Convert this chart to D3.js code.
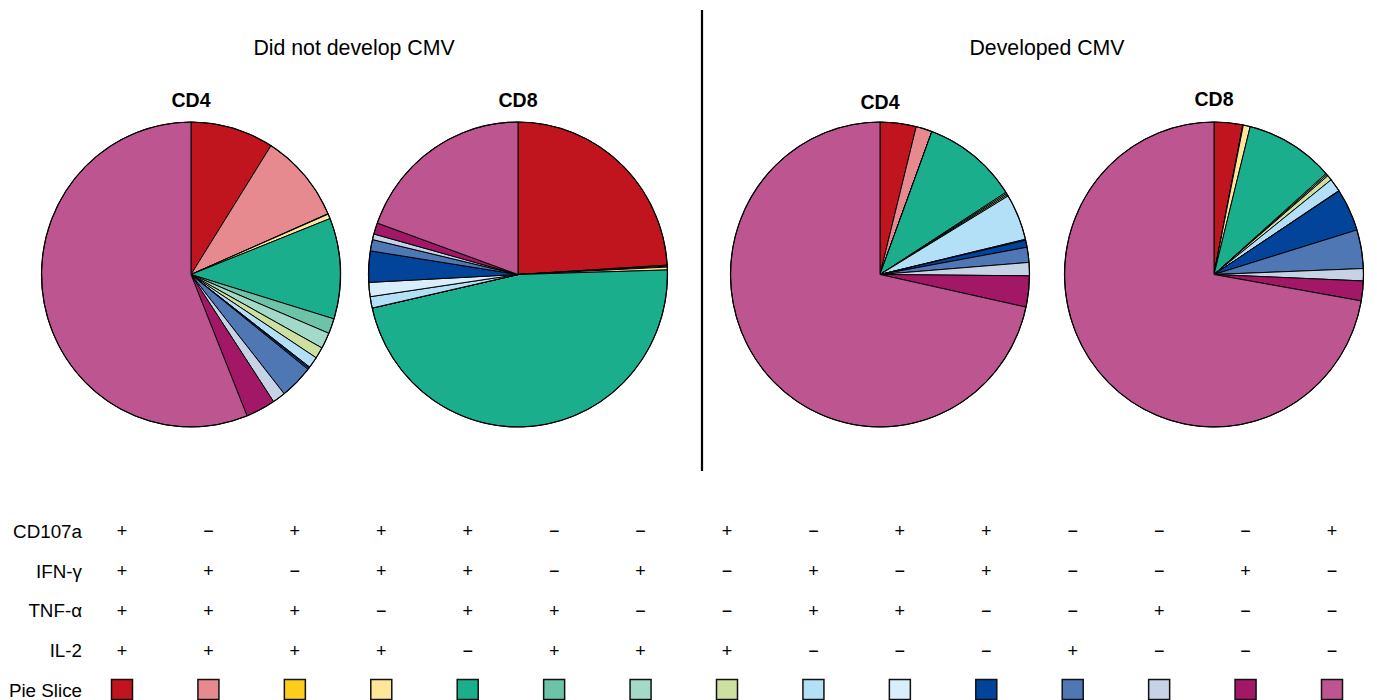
<!DOCTYPE html>
<html>
<head>
<meta charset="utf-8">
<script src="https://cdn.jsdelivr.net/npm/d3@7"></script>
<style>
    body { margin: 0; background: #fff; }
    svg { font-family: "Liberation Sans", Arial, Helvetica, sans-serif; }
</style>
</head>
<body>
<div id="chart"></div>
<script>
// slice order (clockwise from 12 o'clock) = column order of the table
const sliceColors = ["#c0141f", "#e68a90", "#fecc1b", "#ffe699", "#1aae8c", "#6dc3a8", "#a3d9c8", "#cde0a0",
    "#b3e0f6", "#d9eefb", "#02449a", "#4e77b4", "#c6d2e6", "#a21766", "#bd5590"];

const markers = ["CD107a", "IFN-γ", "TNF-α", "IL-2"];
const cd107aSigns = ["+", "−", "+", "+", "+", "−", "−", "+", "−", "+", "+", "−", "−", "−", "+"];
const ifngSigns   = ["+", "+", "−", "+", "+", "−", "+", "−", "+", "−", "+", "−", "−", "+", "−"];
const tnfaSigns   = ["+", "+", "+", "−", "+", "+", "−", "−", "+", "+", "−", "−", "+", "−", "−"];
const il2Signs    = ["+", "+", "+", "+", "−", "+", "+", "+", "−", "−", "−", "+", "−", "−", "−"];

const groups = ["Did not develop CMV", "Developed CMV"];
const subsets = ["CD4", "CD8"];

// percent of responding cells per combination
const noCmvCD4 = [9.0, 9.5, 0.05, 0.5, 10.7, 1.6, 1.7, 1.2, 1.2, 0.1, 0.2, 3.6, 1.4, 3.2, 56.2];
const noCmvCD8 = [24.0, 0.1, 0.1, 0.3, 46.9, 0, 0, 0, 1.2, 1.5, 3.3, 1.2, 0.6, 1.2, 19.5];
const cmvCD4   = [3.9, 1.75, 0, 0, 10.3, 0.15, 0.15, 0.15, 4.9, 0.1, 0.75, 1.6, 1.4, 3.3, 71.6];
const cmvCD8   = [3.1, 0, 0.05, 0.75, 9.6, 0.15, 0.15, 0.55, 1.4, 0.05, 4.5, 4.1, 1.3, 2.1, 72.3];

const width = 1377, height = 700;
const radius = 149.5;
const yStretch = 152.5 / 149.5;   // the original pies are a touch taller than wide

const svg = d3.select("#chart")
    .append("svg")
        .attr("width", width)
        .attr("height", height);

const pies = [
    {group: 0, subset: 0, values: noCmvCD4, cx: 191, labelY: 107},
    {group: 0, subset: 1, values: noCmvCD8, cx: 518, labelY: 107},
    {group: 1, subset: 0, values: cmvCD4, cx: 880, labelY: 109},
    {group: 1, subset: 1, values: cmvCD8, cx: 1214, labelY: 106},
];
const pieY = 274.5;

const pie = d3.pie().sort(null).value(d => d);
const arc = d3.arc().innerRadius(0).outerRadius(radius);

pies.forEach(p => {
    const g = svg.append("g")
        .attr("transform", `translate(${p.cx},${pieY}) scale(1,${yStretch})`);

    g.selectAll("path")
        .data(pie(p.values))
        .join("path")
            .attr("d", arc)
            .attr("fill", (d, i) => sliceColors[i])
            .attr("stroke", "#000")
            .attr("stroke-width", 1)
            .attr("stroke-linejoin", "round")
            .attr("vector-effect", "non-scaling-stroke");

    g.append("circle")
        .attr("r", radius)
        .attr("fill", "none")
        .attr("stroke", "#000")
        .attr("stroke-width", 1.2)
        .attr("vector-effect", "non-scaling-stroke");

    svg.append("text")
        .attr("x", p.cx)
        .attr("y", p.labelY)
        .attr("text-anchor", "middle")
        .attr("font-weight", "bold")
        .attr("font-size", 19.5)
        .text(subsets[p.subset]);
});

// group headings
[[354, groups[0]], [1047, groups[1]]].forEach(([x, t]) => {
    svg.append("text")
        .attr("x", x)
        .attr("y", 55)
        .attr("text-anchor", "middle")
        .attr("font-size", 21.3)
        .text(t);
});

// divider
svg.append("line")
    .attr("x1", 702).attr("x2", 702)
    .attr("y1", 10).attr("y2", 471)
    .attr("stroke", "#000")
    .attr("stroke-width", 2.2);

// combination table
const rowNames = [...markers, "Pie Slice"];
const signRows = [cd107aSigns, ifngSigns, tnfaSigns, il2Signs];

const xCol = d3.scalePoint().domain(d3.range(sliceColors.length)).range([122, 1332]);
const yRow = d3.scalePoint().domain(rowNames).range([531, 690]);

svg.selectAll(".rowlabel")
    .data(rowNames)
    .join("text")
        .attr("class", "rowlabel")
        .attr("x", 82)
        .attr("y", d => yRow(d))
        .attr("dy", "0.36em")
        .attr("text-anchor", "end")
        .attr("font-size", 18.8)
        .text(d => d);

signRows.forEach((signs, r) => {
    svg.selectAll(".sign" + r)
        .data(signs)
        .join("text")
            .attr("class", "sign" + r)
            .attr("x", (d, i) => xCol(i))
            .attr("y", yRow(markers[r]))
            .attr("dy", "0.36em")
            .attr("text-anchor", "middle")
            .attr("font-size", 18)
            .attr("fill", "#000")
            .text(d => d);
});

svg.selectAll(".swatch")
    .data(sliceColors)
    .join("rect")
        .attr("class", "swatch")
        .attr("x", (d, i) => xCol(i) - 10.5)
        .attr("y", yRow("Pie Slice") - 10.5)
        .attr("width", 21)
        .attr("height", 20)
        .attr("fill", d => d)
        .attr("stroke", "#111")
        .attr("stroke-width", 1.5);
</script>
</body>
</html>
